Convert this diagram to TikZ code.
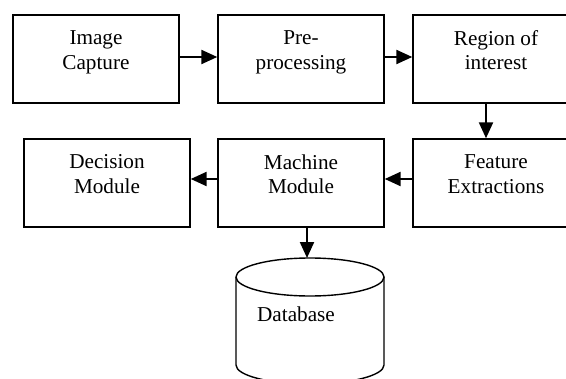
\documentclass[tikz,border=0pt]{standalone}
\usepackage{fontspec}
\setmainfont{Liberation Serif}
\usetikzlibrary{arrows.meta}

\begin{document}
\begin{tikzpicture}[x=0.5pt, y=-0.5pt, >={Triangle[length=8pt, width=7pt]},
    every node/.style={font=\fontsize{10.6}{12.2}\selectfont},
    bloque/.style={draw, line width=0.7pt, minimum width=83pt, minimum height=44pt, inner sep=0pt},
    texto/.style={align=center, yshift=2.6pt, execute at begin node=\strut, execute at end node=\strut},
    flecha/.style={->, line width=1.1pt}]
        % Marco de la imagen
        \useasboundingbox (0,0) rectangle (566,379);
        \clip (0,0) rectangle (566,379);

        % Fila superior
        \def\ya{59}
        \node[bloque, label={[texto]center:Image\\Capture}] (cap) at (96,\ya) {};
        \node[bloque, label={[texto]center:Pre-\\processing}] (pre) at (301,\ya) {};
        \node[bloque, label={[texto]center:Region of\\interest}] (roi) at (496,\ya) {};

        % Fila inferior
        \def\yb{183}
        \node[bloque, label={[texto]center:Decision\\Module}] (dec) at (107,\yb) {};
        \node[bloque, label={[texto]center:Machine\\Module}] (mach) at (301,\yb) {};
        \node[bloque, label={[texto]center:Feature\\Extractions}] (feat) at (496,\yb) {};

        % Base de datos (cilindro)
        \draw[line width=0.7pt] (236,277) -- (236,365) arc[start angle=180, end angle=0, x radius=74, y radius=19] -- (384,277);
        \draw[line width=0.7pt] (310,277) ellipse[x radius=74, y radius=19];
        \coordinate (dbtop) at (307,258);
        \node (db) at (296,314.5) {Database};

        % Flechas
        \draw[flecha] ([yshift=1pt]cap.east) -- ([yshift=1pt]pre.west);
        \draw[flecha] ([yshift=1pt]pre.east) -- ([yshift=1pt]roi.west);
        \draw[flecha] ([xshift=-5pt]roi.south) -- ([xshift=-5pt]feat.north);
        \draw[flecha] ([yshift=2pt]feat.west) -- ([yshift=2pt]mach.east);
        \draw[flecha] ([yshift=2pt]mach.west) -- ([yshift=2pt]dec.east);
        \draw[flecha] ([xshift=3pt]mach.south) -- (dbtop);

    \end{tikzpicture}
\end{document}
